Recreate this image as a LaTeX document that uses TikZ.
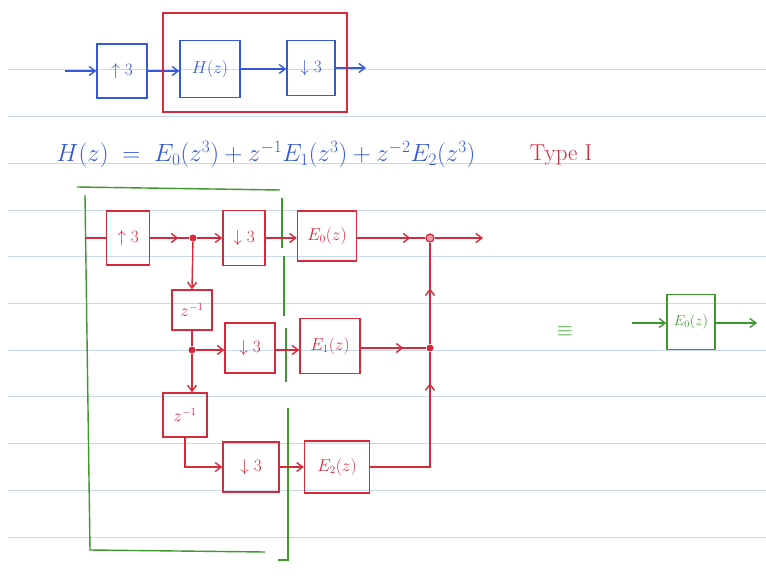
\documentclass[tikz,border=0pt]{standalone}
\usepackage{amsmath,amssymb}
\usepackage{xcolor}
\usepackage{tikz}
\usetikzlibrary{positioning,arrows.meta,calc,decorations.markings}
\definecolor{cazul}{HTML}{3558D6}
\definecolor{crojo}{HTML}{D42A3C}
\definecolor{cverde}{HTML}{3C9A2C}
\definecolor{clinea}{HTML}{C9D8EA}
\tikzset{
  cajaz/.style={rectangle, draw=cazul, line width=1.4pt, text=cazul, inner sep=0pt, font=\fontsize{18}{21}\selectfont},
  cajar/.style={rectangle, draw=crojo, line width=1.4pt, text=crojo, inner sep=0pt, font=\fontsize{16}{19}\selectfont},
  cajav/.style={rectangle, draw=cverde, line width=1.4pt, text=cverde, inner sep=0pt, font=\fontsize{14}{17}\selectfont},
  flecha/.style={-{Straight Barb[length=6pt,width=9pt]}, line width=1.4pt},
  linea/.style={line width=1.4pt},
  medio/.style={decoration={markings, mark=at position #1 with {\arrow{Straight Barb[length=6pt,width=9pt]}}}, postaction={decorate}},
  punto/.style={circle, fill=crojo, inner sep=0pt, minimum size=7pt},
}
\begin{document}
\begin{tikzpicture}[x=1pt,y=-1pt]
  \useasboundingbox[fill=white] (0,0) rectangle (766,578);
  \foreach \k in {0,...,10}
    \draw[clinea, line width=1pt] (8,70+46.7*\k) -- (766,70+46.7*\k);

  % fila superior
  \node[cajaz, minimum width=50pt, minimum height=54pt] (up) at (122,71) {$\uparrow 3$};
  \node[cajaz, minimum width=60pt, minimum height=57pt] (h) at (210,69) {$H(z)$};
  \node[cajaz, minimum width=48pt, minimum height=55pt] (dn) at (311,68) {$\downarrow 3$};
  \coordinate (in) at (65,71);
  \coordinate (out) at (366,68);
  \draw[flecha, cazul] (in) -- (up.west);
  \draw[flecha, cazul] (up.east) -- (up.east -| h.west);
  \draw[flecha, cazul] (h.east) -- (h.east -| dn.west);
  \draw[flecha, cazul] (dn.east) -- (out);
  \draw[crojo, line width=1.4pt] (163,13) rectangle (347,112);

  % ecuacion
  \node[text=cazul, font=\fontsize{23}{27}\selectfont] (eq) at (266,155)
    {$H(z) \;=\; E_0(z^3) + z^{-1}E_1(z^3) + z^{-2}E_2(z^3)$};
  \node[text=crojo, font=\fontsize{23}{27}\selectfont] (tipo) at (561,155) {Type I};

  % caja verde
  \draw[cverde, line width=1.4pt] (77,187) -- (280,190);
  \draw[cverde, line width=1.4pt] (85,195) -- (90,550) -- (265,552);
  \draw[cverde, line width=1.4pt] (282,198) -- (282,248);
  \draw[cverde, line width=1.4pt] (284,256) -- (284,316);
  \draw[cverde, line width=1.4pt] (286,328) -- (286,382);
  \draw[cverde, line width=1.4pt] (288,408) -- (288,560) -- (278,560);

  % polifase
  \node[cajar, minimum width=43pt, minimum height=54pt] (upA) at (128,238) {$\uparrow 3$};
  \node[punto] (dA) at (193,238) {};
  \node[cajar, minimum width=42pt, minimum height=55pt] (dn0) at (244,238) {$\downarrow 3$};
  \node[cajar, minimum width=59pt, minimum height=50pt] (e0) at (327,236) {$E_0(z)$};
  \node[punto, draw=crojo, line width=1.2pt, fill=crojo!45, minimum size=8pt] (s0) at (430,238) {};
  \coordinate (inA) at (85,238);
  \coordinate (outA) at (483,238);

  \node[cajar, minimum width=40pt, minimum height=40pt] (zA) at (192,310) {$z^{-1}$};
  \node[punto] (dB) at (192,350) {};
  \node[cajar, minimum width=50pt, minimum height=50pt] (dn1) at (250,348) {$\downarrow 3$};
  \node[cajar, minimum width=60pt, minimum height=55pt] (e1) at (330,346) {$E_1(z)$};
  \node[punto] (s1) at (430,348) {};

  \node[cajar, minimum width=44pt, minimum height=44pt] (zB) at (185,415) {$z^{-1}$};
  \node[cajar, minimum width=56pt, minimum height=50pt] (dn2) at (251,467) {$\downarrow 3$};
  \node[cajar, minimum width=65pt, minimum height=52pt] (e2) at (337,467) {$E_2(z)$};

  \draw[linea, crojo] (inA) -- (upA.west);
  \draw[linea, crojo, medio=0.72] (upA.east) -- (dA);
  \draw[flecha, crojo] (dA) -- (dn0.west);
  \draw[flecha, crojo] (dn0.east) -- (dn0.east -| e0.west);
  \draw[linea, crojo, medio=0.78] (e0.east |- s0) -- (s0);
  \draw[flecha, crojo] (s0) -- (outA);

  \draw[flecha, crojo] (dA) -- (zA.north);
  \draw[linea, crojo] (zA.south) -- (dB);
  \draw[flecha, crojo] (dB) -- (dB -| dn1.west);
  \draw[flecha, crojo] (dn1.east |- dB) -- (dB -| e1.west);
  \draw[linea, crojo, medio=0.65] (e1.east |- s1) -- (s1);

  \draw[flecha, crojo] (dB) -- (zB.north -| dB);
  \draw[flecha, crojo] (zB.south) |- (dn2.west);
  \draw[flecha, crojo] (dn2.east) -- (e2.west);
  \draw[linea, crojo, medio=0.82] (e2.east) -| (s1);
  \draw[linea, crojo, medio=0.55] (s1) -- (s0);

  % equivalente
  \node[text=cverde, font=\fontsize{20}{24}\selectfont] (eqv) at (565,332) {$\equiv$};
  \node[cajav, minimum width=48pt, minimum height=55pt] (ge) at (691,322) {$E_0(z)$};
  \coordinate (gin) at (632,323);
  \coordinate (gout) at (757,323);
  \draw[flecha, cverde] (gin) -- (ge.west |- gin);
  \draw[flecha, cverde] (ge.east |- gout) -- (gout);
\end{tikzpicture}
\end{document}
